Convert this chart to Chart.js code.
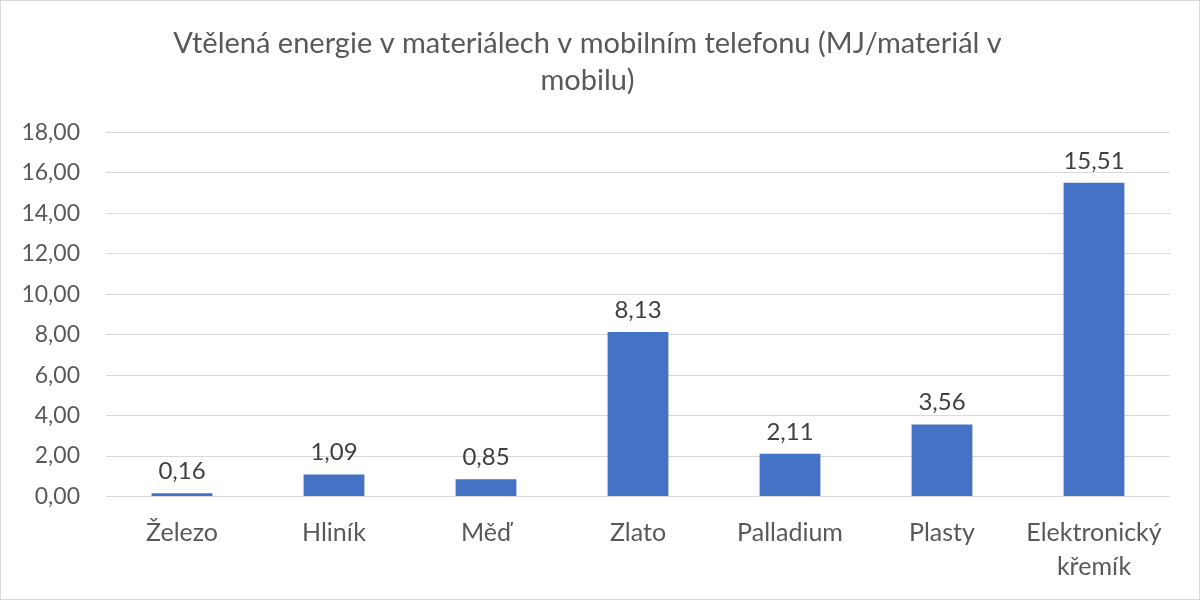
<!DOCTYPE html>
<html lang="cs">
<head>
<meta charset="utf-8">
<title>Vtělená energie v materiálech</title>
<script src="https://cdn.jsdelivr.net/npm/chart.js@4.4.1/dist/chart.umd.min.js"></script>
<style>
  html, body { margin: 0; padding: 0; background: #fff; }
  #wrap { width: 1200px; height: 600px; box-sizing: border-box; border: 1px solid #d9d9d9; }
</style>
</head>
<body>
<div id="wrap"><canvas id="chart"></canvas></div>
<script>
// Data z obrázku
const categories = ["Železo", "Hliník", "Měď", "Zlato", "Palladium", "Plasty", ["Elektronický", "křemík"]];
const energyValues = [0.16, 1.09, 0.85, 8.13, 2.11, 3.56, 15.51];
const titleLines = ["Vtělená energie v materiálech v mobilním telefonu (MJ/materiál v", "mobilu)"];

const fontFamily = "Lato, 'Open Sans', sans-serif";
const textColor = "#595959";

// čárka jako desetinný oddělovač
function fmt(v) {
  return v.toFixed(2).replace(".", ",");
}

// popisky hodnot nad sloupci
const valueLabels = {
  id: "valueLabels",
  afterDatasetsDraw(chart) {
    const ctx = chart.ctx;
    const meta = chart.getDatasetMeta(0);
    ctx.save();
    ctx.font = "24px " + fontFamily;
    ctx.fillStyle = "#404040";
    ctx.textAlign = "center";
    ctx.textBaseline = "bottom";
    meta.data.forEach((bar, i) => {
      ctx.fillText(fmt(energyValues[i]), bar.x, bar.y - 10);
    });
    ctx.restore();
  }
};

new Chart(document.getElementById("chart"), {
  type: "bar",
  data: {
    labels: categories,
    datasets: [{
      data: energyValues,
      backgroundColor: "#4472c4",
      categoryPercentage: 1,
      barPercentage: 0.4
    }]
  },
  options: {
    responsive: true,
    maintainAspectRatio: false,
    animation: false,
    layout: { padding: { left: 4, right: 29, top: 8, bottom: 3 } },
    plugins: {
      legend: { display: false },
      tooltip: { enabled: false },
      title: {
        display: true,
        text: titleLines,
        color: textColor,
        font: { family: fontFamily, size: 29, weight: "normal", lineHeight: 1.25 },
        padding: { top: 17, bottom: 34 }
      }
    },
    scales: {
      x: {
        grid: { display: false },
        border: { display: false },
        ticks: { color: textColor, font: { family: fontFamily, size: 25, lineHeight: 1.35 }, padding: 12, maxRotation: 0 }
      },
      y: {
        min: 0,
        max: 18,
        border: { display: false },
        grid: { color: "#d9d9d9", drawTicks: false },
        afterFit: scale => { scale.width = 101; },
        ticks: {
          stepSize: 2,
          color: textColor,
          font: { family: fontFamily, size: 23 },
          padding: 26,
          callback: v => fmt(v)
        }
      }
    }
  },
  plugins: [valueLabels]
});
</script>
</body>
</html>
